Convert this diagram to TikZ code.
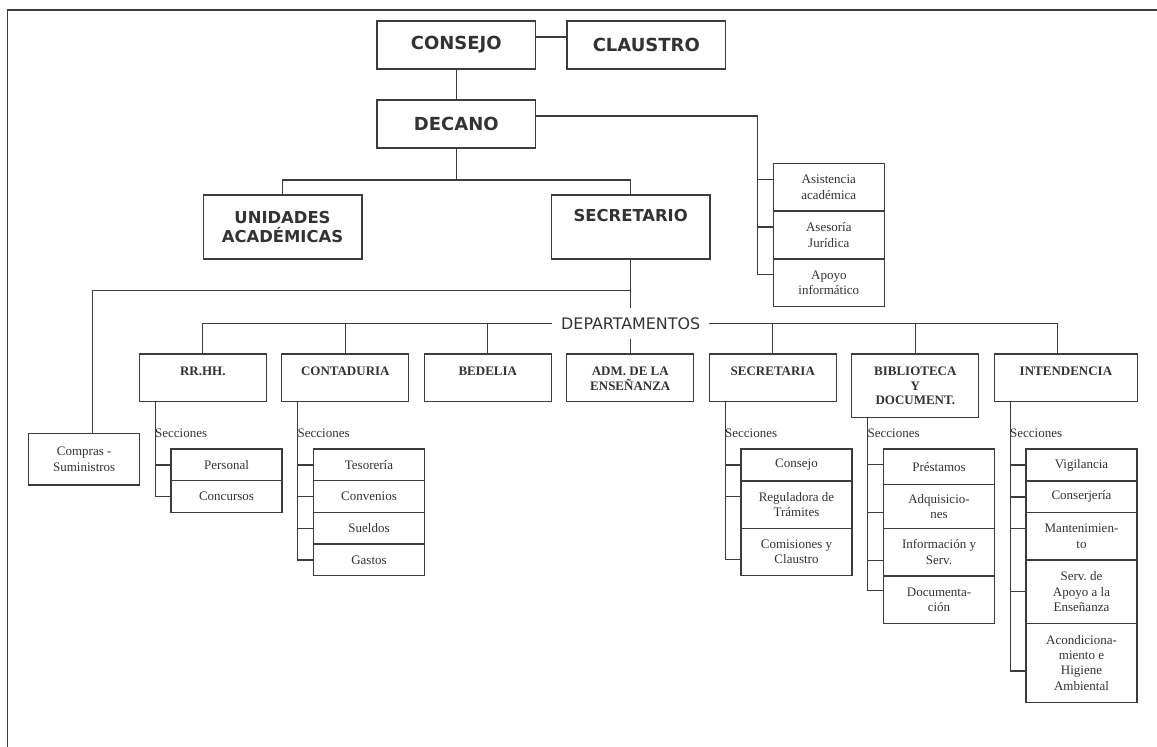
\documentclass[tikz,border=0pt]{standalone}
\usepackage{fontspec}
\setmainfont{Liberation Serif}
\newfontfamily\headfont{DejaVu Sans}
\usetikzlibrary{positioning}
\frenchspacing
\definecolor{linegray}{HTML}{3C3C3C}
\definecolor{textgray}{HTML}{333333}
\tikzset{
  topbox/.style={draw=linegray, fill=white, minimum width=158.7pt, minimum height=48pt,
    inner sep=0pt, outer sep=0pt, text=textgray, font=\headfont\bfseries\fontsize{18}{21}\selectfont},
  midbox/.style={topbox, minimum height=64pt, align=flush center,
    font=\headfont\bfseries\fontsize{16.4}{19.7}\selectfont},
  dept/.style={draw=linegray, fill=white, text width=121pt, align=flush center, inner xsep=3pt,
    inner ysep=0pt, outer sep=0pt, text height=21.7pt, text depth=26pt, text=textgray,
    font=\bfseries\fontsize{13}{14.5}\selectfont},
  sub/.style={draw=linegray, fill=white, text width=105pt, align=flush center, inner xsep=3pt,
    inner ysep=0pt, outer sep=0pt, text=textgray, font=\fontsize{13}{15.3}\selectfont},
  secc/.style={anchor=west, inner sep=0pt, text=textgray, font=\fontsize{13}{15}\selectfont},
  deptlabel/.style={inner xsep=8.5pt, inner ysep=9pt, text=textgray,
    font=\headfont\fontsize{15.9}{18}\selectfont}
}
\begin{document}
\begin{tikzpicture}[x=1pt, y=-1pt, line width=1.3pt, color=linegray]
  \useasboundingbox (0,0) rectangle (1157,747);
  % Frame
  \draw[line width=1.7pt] (7.5,747) -- (7.5,10) -- (1157,10);
  % Place nodes
  \node[topbox] (consejo) at (456.3,45) {CONSEJO};
  \node[topbox, right=31.3pt of consejo] (claustro) {CLAUSTRO};
  \node[topbox, below=31pt of consejo] (decano) {DECANO};
  \node[midbox] (unidades) at (282.5,227) {UNIDADES\\ACADÉMICAS};
  \node[midbox, text height=26.7pt, text depth=37.3pt] (secretario) at (630.7,227) {SECRETARIO};
  \node[sub, minimum height=47.8pt, anchor=north west] (asistencia) at (773.3,163.3) {Asistencia\\académica};
  \node[sub, minimum height=47.8pt, below=0pt of asistencia] (asesoria) {Asesoría\\Jurídica};
  \node[sub, minimum height=47.8pt, below=0pt of asesoria] (apoyo) {Apoyo\\informático};
  \node[deptlabel] (dptos) at (630.7,323.5) {DEPARTAMENTOS};
  \node[dept, anchor=north west] (rrhh) at (139.3,354) {RR.HH.};
  \node[dept, right=15.5pt of rrhh.north east, anchor=north west] (conta) {CONTADURIA};
  \node[dept, right=15.5pt of conta.north east, anchor=north west] (bedelia) {BEDELIA};
  \node[dept, right=15.5pt of bedelia.north east, anchor=north west] (adm) {ADM. DE LA\\ENSEÑANZA};
  \node[dept, right=15.5pt of adm.north east, anchor=north west] (secretaria) {SECRETARIA};
  \node[dept, text depth=41.6pt, right=15.5pt of secretaria.north east, anchor=north west] (biblio) {BIBLIOTECA\\Y\\DOCUMENT.};
  \node[dept, text width=137.3pt, right=15.5pt of biblio.north east, anchor=north west] (intend) {INTENDENCIA};
  \node[sub, minimum height=51.7pt, anchor=north west] (compras) at (28.7,433.3) {Compras -\\Suministros};
  % RR.HH.
  \node[sub, minimum height=31.7pt, anchor=north west] (personal) at ([shift={(31.7pt,-95pt)}]rrhh.north west) {Personal};
  \node[sub, minimum height=31.7pt, below=0pt of personal] (concursos) {Concursos};
  \node[secc] at ([shift={(-16.5pt,15.7pt)}]personal.north west) {Secciones};
  % Contaduria
  \node[sub, minimum height=31.7pt, anchor=north west] (tesoreria) at ([shift={(31.7pt,-95pt)}]conta.north west) {Tesorería};
  \node[sub, minimum height=31.7pt, below=0pt of tesoreria] (convenios) {Convenios};
  \node[sub, minimum height=31.7pt, below=0pt of convenios] (sueldos) {Sueldos};
  \node[sub, minimum height=31.7pt, below=0pt of sueldos] (gastos) {Gastos};
  \node[secc] at ([shift={(-16.5pt,15.7pt)}]tesoreria.north west) {Secciones};
  % Secretaria
  \node[sub, minimum height=32pt, anchor=north west] (sconsejo) at ([shift={(31.7pt,-95pt)}]secretaria.north west) {Consejo};
  \node[sub, minimum height=47.3pt, below=0pt of sconsejo] (reguladora) {Reguladora de\\Trámites};
  \node[sub, minimum height=47.4pt, below=0pt of reguladora] (comisiones) {Comisiones y\\Claustro};
  \node[secc] at ([shift={(-16.5pt,15.7pt)}]sconsejo.north west) {Secciones};
  % Biblioteca
  \node[sub, minimum height=35.3pt, anchor=north west] (prestamos) at ([shift={(31.7pt,-95pt)}]biblio.north west) {Préstamos};
  \node[sub, minimum height=44pt, below=0pt of prestamos] (adquisiciones) {Adquisicio-\\nes};
  \node[sub, minimum height=47.7pt, below=0pt of adquisiciones] (informacion) {Información y\\Serv.};
  \node[sub, minimum height=47.3pt, below=0pt of informacion] (documentacion) {Documenta-\\ción};
  \node[secc] at ([shift={(-16.5pt,15.7pt)}]prestamos.north west) {Secciones};
  % Intendencia
  \node[sub, minimum height=32pt, anchor=north west] (vigilancia) at ([shift={(31.7pt,-95pt)}]intend.north west) {Vigilancia};
  \node[sub, minimum height=31.7pt, below=0pt of vigilancia] (conserjeria) {Conserjería};
  \node[sub, minimum height=47.3pt, below=0pt of conserjeria] (mantenimiento) {Mantenimien-\\to};
  \node[sub, minimum height=63.3pt, below=0pt of mantenimiento] (servicio) {Serv. de\\Apoyo a la\\Enseñanza};
  \node[sub, minimum height=79pt, below=0pt of servicio] (acondicionamiento) {Acondiciona-\\miento e\\Higiene\\Ambiental};
  \node[secc] at ([shift={(-16.5pt,15.7pt)}]vigilancia.north west) {Secciones};
  % Draw edges
  \draw ([yshift=8pt]consejo.east) -- ([yshift=8pt]claustro.west);
  \draw (consejo) -- (decano);
  \draw (decano.south) -- ++(0,32) coordinate (dk);
  \draw (unidades.north) |- (dk) -| (secretario.north);
  \draw ([yshift=8pt]decano.east) -| ([xshift=-16pt,yshift=8pt]apoyo.west) -- ([yshift=8pt]apoyo.west);
  \draw ([yshift=8pt]asistencia.west) -- ++(-16,0);
  \draw ([yshift=8pt]asesoria.west) -- ++(-16,0);
  \draw (secretario.south) -- (dptos.north);
  \draw ([yshift=-31.7pt]secretario.south) -| ([xshift=8pt]compras.north);
  \draw (dptos.south) -- (dptos.south |- adm.north);
  \draw (dptos.west) -| (rrhh.north);
  \draw (dptos.east) -| ([xshift=-8.4pt]intend.north);
  \draw (conta.north) -- (conta.north |- dptos.west);
  \draw (bedelia.north) -- (bedelia.north |- dptos.west);
  \draw (secretaria.north) -- (secretaria.north |- dptos.east);
  \draw (biblio.north) -- (biblio.north |- dptos.east);
  % Secciones
  \draw ([xshift=16pt]rrhh.south west) |- (concursos.west);
  \draw (personal.west) -- ++(-15.7,0);
  \draw ([xshift=16pt]conta.south west) |- (gastos.west);
  \draw (tesoreria.west) -- ++(-15.7,0);
  \draw (convenios.west) -- ++(-15.7,0);
  \draw (sueldos.west) -- ++(-15.7,0);
  \draw ([xshift=16pt]secretaria.south west) |- ([yshift=-7.3pt]comisiones.west);
  \draw (sconsejo.west) -- ++(-15.7,0);
  \draw ([yshift=8pt]reguladora.west) -- ++(-15.7,0);
  \draw ([xshift=16pt]biblio.south west) |- ([yshift=9pt]documentacion.west);
  \draw ([yshift=2.3pt]prestamos.west) -- ++(-15.7,0);
  \draw ([yshift=-6.2pt]adquisiciones.west) -- ++(-15.7,0);
  \draw ([yshift=-8.2pt]informacion.west) -- ++(-15.7,0);
  \draw ([xshift=16pt]intend.south west) |- ([yshift=-8.2pt]acondicionamiento.west);
  \draw (vigilancia.west) -- ++(-15.7,0);
  \draw (conserjeria.west) -- ++(-15.7,0);
  \draw ([yshift=8pt]mantenimiento.west) -- ++(-15.7,0);
  \draw (servicio.west) -- ++(-15.7,0);
\end{tikzpicture}
\end{document}
